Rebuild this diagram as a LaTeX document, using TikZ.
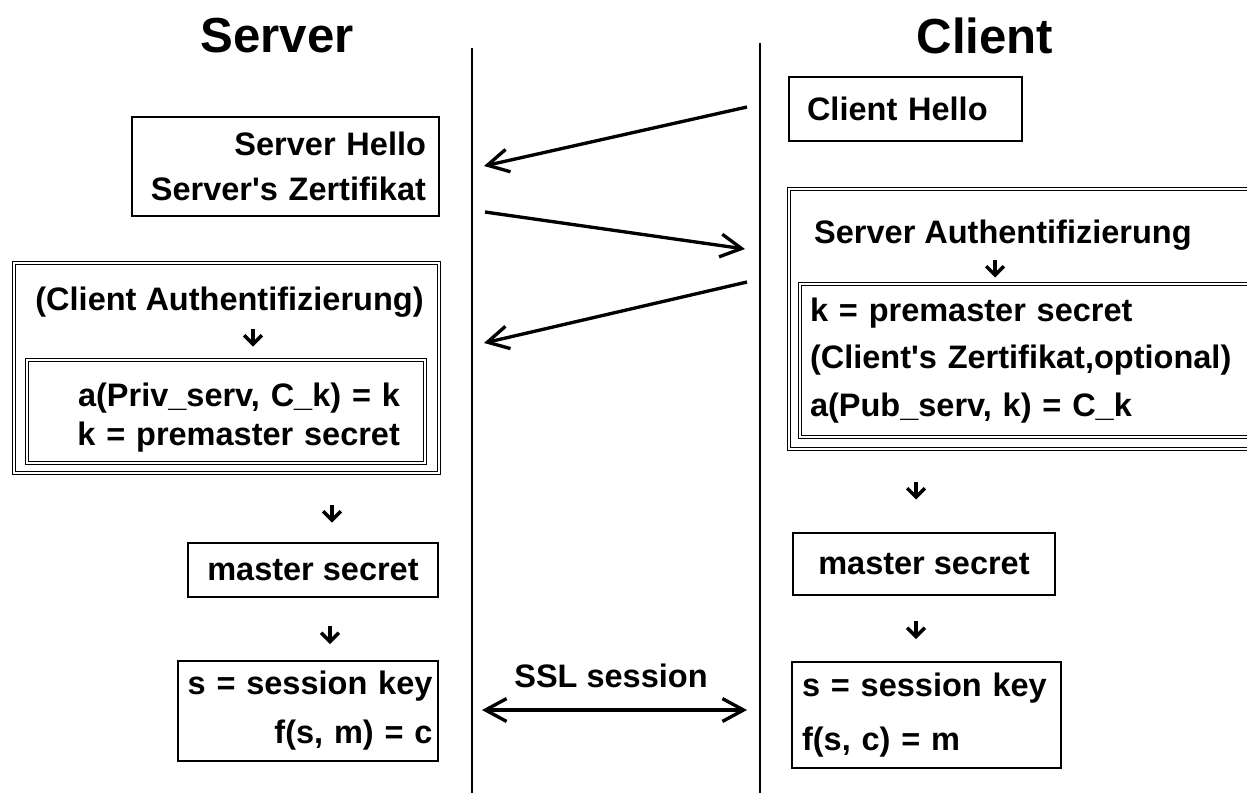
\documentclass[tikz,border=0pt]{standalone}
\usepackage{fontspec}
\setmainfont{Liberation Sans}
\usetikzlibrary{arrows.meta}
\newcommand\fsz[1]{\fontsize{18.5pt}{#1pt}\selectfont\bfseries}

\begin{document}
\begin{tikzpicture}[x=0.02cm,y=-0.02cm,
  box/.style={draw,line width=1.1pt,inner sep=0pt},
  dbox/.style={draw,double,line width=0.6pt,double distance=0.9pt,inner sep=0pt},
  life/.style={line width=1.1pt},
  msg/.style={line width=1.9pt,-{Straight Barb[length=12pt,width=13pt]}},
  dnarr/.style={line width=2pt,-{Straight Barb[length=5pt,width=10pt]}},
  ttl/.style={font=\fontsize{28pt}{32pt}\selectfont\bfseries}]
\clip (0,0) rectangle (1247,792);

% titles and lifelines
\node[ttl] (srv) at (277,36) {Server};
\node[ttl] (clt) at (985,36) {Client};
\draw[life] (472,48) -- (472,800);
\draw[life] (760,43) -- (760,800);

% server side
\node[box,minimum width=6.14cm,minimum height=1.98cm,text width=5.62cm,align=right,font=\fsz{25.5}]
   (srvhello) at (285.5,166.5) {Server Hello\\Server\textquotesingle s Zertifikat};
\node[dbox,minimum width=8.5cm,minimum height=4.2cm] (cltauth) at (226.5,368) {};
\node[anchor=base,font=\fsz{22}] (cltauthtxt) at (229.5,310) {(Client Authentifizierung)};
\node[dbox,minimum width=7.96cm,minimum height=2.06cm,text width=6.96cm,align=right,font=\fsz{22}]
   (privk) at (226,411.5) {\rule{0pt}{20pt}a(Priv\_serv, C\_k) = k\\k = premaster secret};
\node[box,minimum width=5cm,minimum height=1.08cm,font=\fsz{22}] (msl) at (313,570) {master secret};
\node[box,minimum width=5.2cm,minimum height=2cm,text width=4.98cm,align=right,font=\fsz{27.8}]
   (skl) at (308,711) {\mbox{s = session key}\\f(s, m) = c};

% client side
\node[box,minimum width=4.66cm,minimum height=1.28cm,text width=3.94cm,align=left,font=\fsz{22}]
   (clthello) at (905.5,109) {Client Hello};
\node[dbox,minimum width=9.52cm,minimum height=5.2cm] (srvauth) at (1027,319) {};
\node[anchor=base west,font=\fsz{22}] (srvauthtxt) at (808,243) {Server Authentifizierung};
\node[dbox,minimum width=9.1cm,minimum height=3.06cm,text width=8.7cm,align=left,font=\fsz{27}]
   (pubk) at (1027.5,360.5) {k = premaster secret\\(Client\textquotesingle s Zertifikat,optional)\\a(Pub\_serv, k) = C\_k};
\node[box,minimum width=5.24cm,minimum height=1.24cm,font=\fsz{22}] (msr) at (924,564) {master secret};
\node[box,minimum width=5.38cm,minimum height=2.12cm,text width=4.98cm,align=left,font=\fsz{31}]
   (skr) at (926.5,715) {\mbox{s = session key}\\f(s, c) = m};

% small down arrows
\foreach \x/\y in %
{253/337.5,995/268.5,332/513.5,330/635,916/490.5,916/630} {
   \draw[dnarr] (\x,\y) ++(0,-9) -- ++(0,18);
}

% messages
\coordinate (c1) at (747,107); \coordinate (s1) at (484,166);
\coordinate (s2) at (485,212); \coordinate (c2) at (745,249);
\coordinate (c3) at (747,282); \coordinate (s3) at (484,343);
\coordinate (s4) at (482,710); \coordinate (c4) at (747,710);
\draw[msg] (c1) -- (s1);
\draw[msg] (s2) -- (c2);
\draw[msg] (c3) -- (s3);
\draw[msg,{Straight Barb[length=12pt,width=13pt]}-{Straight Barb[length=12pt,width=13pt]}] (s4) -- (c4);
\node[anchor=base,font=\fsz{22}] (ssl) at (611,687) {SSL session};
\end{tikzpicture}
\end{document}
